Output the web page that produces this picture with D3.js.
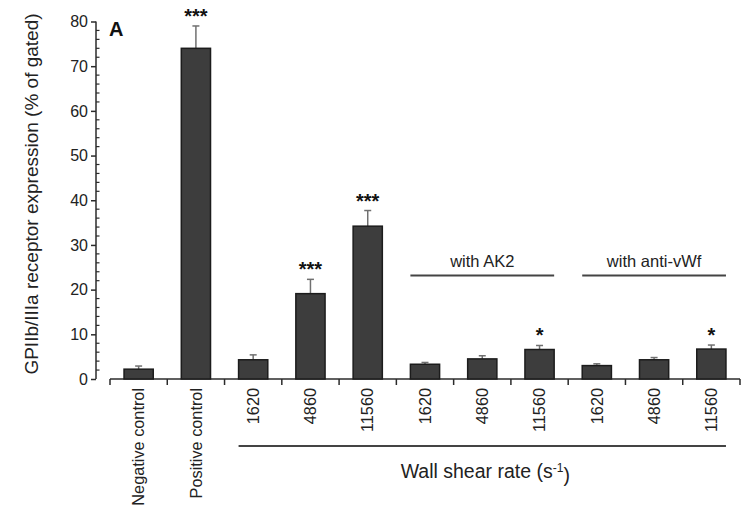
<!DOCTYPE html>
<html>
<head>
<meta charset="utf-8">
<script src="https://cdn.jsdelivr.net/npm/d3@7"></script>
<style>
  html, body { margin: 0; padding: 0; background: #fff; }
  svg { display: block; font-family: "Liberation Sans", Arial, Helvetica, sans-serif; }
</style>
</head>
<body>
<svg id="chart" width="747" height="512"></svg>
<script>
// GPIIb/IIIa receptor expression by condition
const categories = ["Negative control", "Positive control",
  "1620", "4860", "11560",
  "1620", "4860", "11560",
  "1620", "4860", "11560"];
const means  = [2.2, 74.0, 4.3, 19.1, 34.2, 3.3, 4.5, 6.6, 3.0, 4.3, 6.7];
const errors = [0.7, 5.0, 1.1, 3.2, 3.5, 0.4, 0.7, 0.9, 0.4, 0.5, 0.9];
const stars  = ["", "***", "", "***", "***", "", "", "*", "", "", "*"];
const yTicks = [0, 10, 20, 30, 40, 50, 60, 70, 80];
const groups = [
  { label: "with AK2", first: 5, last: 7 },
  { label: "with anti-vWf", first: 8, last: 10 }
];
const shearSpan = { first: 2, last: 10 };

const svg = d3.select("#chart");
const ink = "#2b2b2b";

const keys = categories.map((c, i) => i);
const x = d3.scaleBand().domain(keys).range([110, 740])
  .paddingInner(0.49).paddingOuter(0.245);
const y = d3.scaleLinear().domain([0, 80]).range([379, 21.5]);

// y axis (major ticks outward, minor ticks inward)
const axisX = 96;
const yAxis = svg.append("g").attr("transform", `translate(${axisX},0)`)
  .call(d3.axisLeft(y).tickValues(yTicks).tickSize(5).tickPadding(3).tickFormat(d3.format("d")));
yAxis.select(".domain").remove();
yAxis.selectAll(".tick line").attr("stroke", ink).attr("stroke-width", 1.5);
yAxis.selectAll(".tick text").attr("fill", "#222").style("font-size", "16px");
yAxis.append("line").attr("x1", 0).attr("x2", 0)
  .attr("y1", y(0)).attr("y2", y(80)).attr("stroke", ink).attr("stroke-width", 1.5);
const minor = d3.range(0, 80, 2).filter(v => v % 10 !== 0);
yAxis.selectAll(".minor").data(minor).join("line")
  .attr("class", "minor")
  .attr("x1", 0).attr("x2", 3.5)
  .attr("y1", d => y(d)).attr("y2", d => y(d))
  .attr("stroke", ink).attr("stroke-width", 1.2);

// x axis with ticks at the category boundaries
const step = x.step();
const x0 = x.range()[0];
const boundaries = d3.range(categories.length + 1).map(i => x0 + i * step);
svg.append("line").attr("x1", x0).attr("x2", x.range()[1])
  .attr("y1", y(0)).attr("y2", y(0)).attr("stroke", ink).attr("stroke-width", 1.5);
svg.selectAll(".xtick").data(boundaries).join("line")
  .attr("class", "xtick")
  .attr("x1", d => d).attr("x2", d => d)
  .attr("y1", y(0)).attr("y2", y(0) + 6)
  .attr("stroke", ink).attr("stroke-width", 1.5);

// category labels, rotated
svg.selectAll(".xlab").data(keys).join("text")
  .attr("class", "xlab")
  .attr("transform", d => `translate(${x(d) + x.bandwidth() / 2},388) rotate(-90)`)
  .attr("text-anchor", "end")
  .attr("dy", "0.35em")
  .attr("fill", "#222")
  .style("font-size", "16.3px")
  .text(d => categories[d]);

// error bars
const cap = 3.5;
const eb = svg.append("g").attr("stroke", "#707070").attr("stroke-width", 1.5);
keys.forEach(i => {
  const cx = x(i) + x.bandwidth() / 2;
  eb.append("line").attr("x1", cx).attr("x2", cx)
    .attr("y1", y(means[i])).attr("y2", y(means[i] + errors[i]));
  eb.append("line").attr("x1", cx - cap).attr("x2", cx + cap)
    .attr("y1", y(means[i] + errors[i])).attr("y2", y(means[i] + errors[i]));
});

// bars
svg.selectAll(".bar").data(keys).join("rect")
  .attr("class", "bar")
  .attr("x", d => x(d))
  .attr("width", x.bandwidth())
  .attr("y", d => y(means[d]))
  .attr("height", d => y(0) - y(means[d]))
  .attr("fill", "#3d3d3d")
  .attr("stroke", "#1c1c1c")
  .attr("stroke-width", 1.5);

// significance marks
svg.selectAll(".sig").data(keys.filter(i => stars[i])).join("text")
  .attr("class", "sig")
  .attr("x", d => x(d) + x.bandwidth() / 2)
  .attr("y", d => y(means[d] + errors[d]) - 3)
  .attr("text-anchor", "middle")
  .attr("fill", "#111")
  .style("font-size", "20px")
  .style("font-weight", "bold")
  .text(d => stars[d]);

// group annotations
groups.forEach(g => {
  const gx1 = x(g.first), gx2 = x(g.last) + x.bandwidth();
  svg.append("line").attr("x1", gx1).attr("x2", gx2)
    .attr("y1", 275.5).attr("y2", 275.5)
    .attr("stroke", "#444").attr("stroke-width", 2);
  svg.append("text").attr("x", (gx1 + gx2) / 2).attr("y", 266.5)
    .attr("text-anchor", "middle").attr("fill", "#222")
    .style("font-size", "16.5px").text(g.label);
});

// wall shear rate span
{
  const sx1 = x(shearSpan.first), sx2 = x(shearSpan.last) + x.bandwidth();
  svg.append("line").attr("x1", sx1).attr("x2", sx2)
    .attr("y1", 446).attr("y2", 446)
    .attr("stroke", "#444").attr("stroke-width", 2);
  const t = svg.append("text").attr("x", (sx1 + sx2) / 2 + 3).attr("y", 478)
    .attr("text-anchor", "middle").attr("fill", "#222")
    .style("font-size", "19.5px");
  t.append("tspan").text("Wall shear rate (s");
  t.append("tspan").attr("dy", "-0.5em").style("font-size", "12px").text("-1");
  t.append("tspan").attr("dy", "0.5em").text(")");
}

// y axis title
svg.append("text")
  .attr("transform", "translate(31.5,194) rotate(-90)")
  .attr("text-anchor", "middle")
  .attr("dy", "0.35em")
  .attr("fill", "#222")
  .style("font-size", "19px")
  .text("GPIIb/IIIa receptor expression (% of gated)");

// panel letter
svg.append("text").attr("x", 109).attr("y", 36)
  .attr("fill", "#111").style("font-size", "20px").style("font-weight", "bold")
  .text("A");
</script>
</body>
</html>
